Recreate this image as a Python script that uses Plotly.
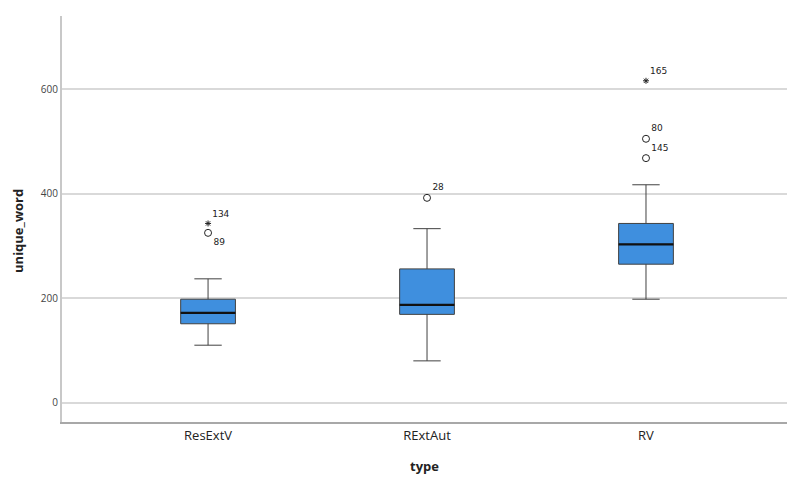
import plotly.graph_objects as go

categories = ["ResExtV", "RExtAut", "RV"]
lower_whisker = [110, 80, 198]
q1 = [151, 169, 265]
median = [172, 187, 303]
q3 = [198, 256, 343]
upper_whisker = [237, 333, 417]

# outliers: (category index, value, case label, kind)
outlier_cat = [0, 0, 1, 2, 2, 2]
outlier_val = [343, 325, 392, 616, 505, 468]
outlier_lab = ["134", "89", "28", "165", "80", "145"]
outlier_kind = ["extreme", "mild", "mild", "extreme", "mild", "mild"]
label_pos = ["top right", "bottom right", "top right", "top right", "top right", "top right"]

y_ticks = [0, 200, 400, 600]

xpos = list(range(len(categories)))
box_w = 0.25

fig = go.Figure()
fig.add_trace(go.Box(
    x=xpos, q1=q1, median=median, q3=q3,
    lowerfence=lower_whisker, upperfence=upper_whisker,
    width=box_w, whiskerwidth=0.5,
    fillcolor="#3f8fde", line=dict(color="#404040", width=1),
    boxpoints=False, showlegend=False, hoverinfo="skip",
))

# median lines
mx, my = [], []
for i, m in zip(xpos, median):
    mx += [i - box_w / 2, i + box_w / 2, None]
    my += [m, m, None]
fig.add_trace(go.Scatter(x=mx, y=my, mode="lines",
                         line=dict(color="#111111", width=2.2),
                         showlegend=False, hoverinfo="skip"))

for kind, sym, sz in [("mild", "circle-open", 7), ("extreme", "asterisk-open", 5)]:
    idx = [k for k, t in enumerate(outlier_kind) if t == kind]
    fig.add_trace(go.Scatter(
        x=[outlier_cat[k] for k in idx], y=[outlier_val[k] for k in idx],
        mode="markers+text",
        text=[outlier_lab[k] for k in idx],
        textposition=[label_pos[k] for k in idx],
        textfont=dict(family="DejaVu Sans", size=9, color="#222"),
        marker=dict(symbol=sym, size=sz, color="#222",
                    line=dict(color="#222", width=1)),
        showlegend=False, hoverinfo="skip", cliponaxis=False,
    ))

fig.update_layout(
    width=787, height=477,
    margin=dict(l=62, r=0, t=16, b=55, autoexpand=False),
    plot_bgcolor="white", paper_bgcolor="white",
    font=dict(family="Open Sans", color="#222"),
    annotations=[
        dict(text="<b>type</b>", xref="paper", yref="paper", x=0.5, y=-0.108,
             xanchor="center", yanchor="middle", showarrow=False,
             font=dict(size=13, color="#222")),
        dict(text="<b>unique_word</b>", xref="paper", yref="paper", x=-0.061, y=0.47,
             xanchor="center", yanchor="middle", showarrow=False, textangle=-90,
             font=dict(size=13, color="#222")),
    ],
)
fig.update_xaxes(
    range=[-0.667, 2.644], tickvals=xpos, ticktext=categories,
    tickfont=dict(size=13, color="#222"), ticks="",
    showgrid=False, zeroline=False, automargin=False,
    showline=True, linecolor="#a8a8a8", linewidth=2,
)
fig.update_yaxes(
    range=[-37, 740], tickvals=y_ticks,
    tickfont=dict(size=10, color="#444"), ticks="",
    showgrid=True, gridcolor="#d9d9d9", gridwidth=2,
    zeroline=False, automargin=False,
    showline=True, linecolor="#c8c8c8", linewidth=2,
)

post = ("document.documentElement.style.overflow='hidden';"
        "document.body.style.margin='0';document.body.style.overflow='hidden';"
        "Plotly.relayout('{plot_id}', {width: 787, height: 477});")
fig.write_html("out.html", post_script=post,
               config={"responsive": False, "displayModeBar": False})
